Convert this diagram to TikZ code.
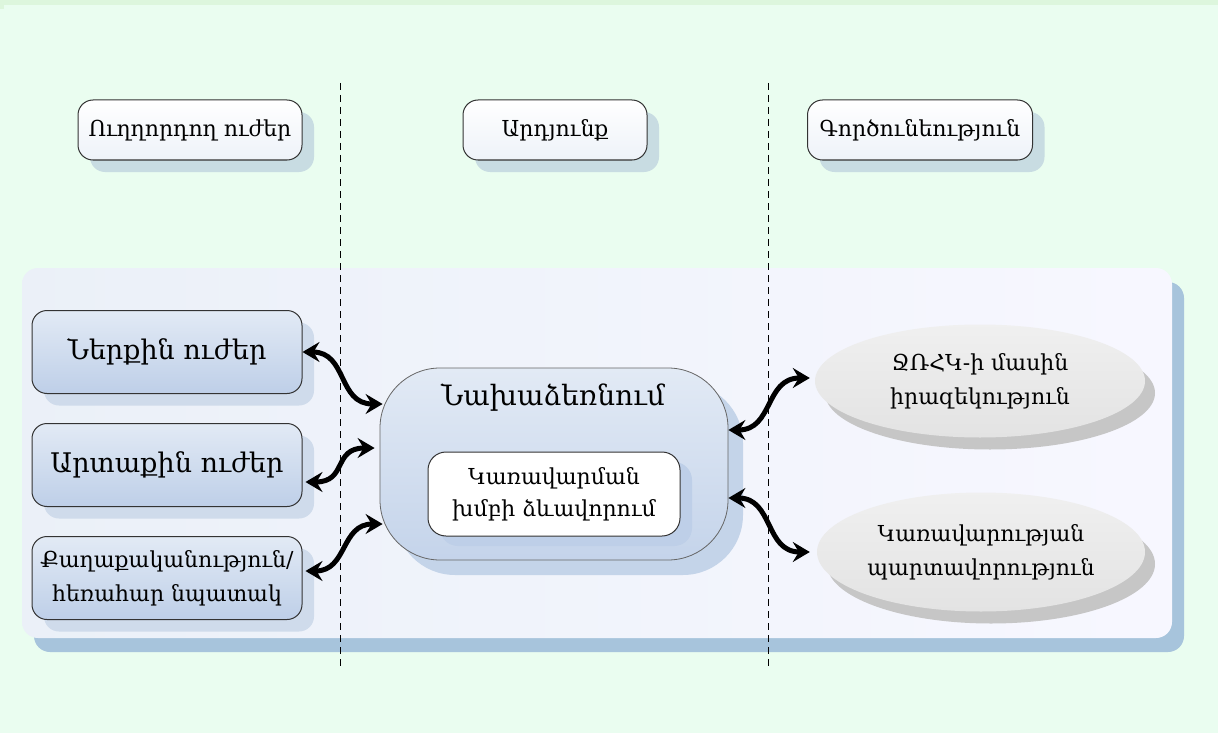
\documentclass[tikz,border=0pt]{standalone}
\usepackage{fontspec}
\setmainfont{DejaVu Serif}
\usetikzlibrary{shapes.geometric,shadows,arrows.meta}
\definecolor{bgcol}{HTML}{EAFDF0}
\definecolor{bgtop}{HTML}{DDF6DD}
\definecolor{hdshadow}{HTML}{C8DCE2}
\definecolor{panelshadow}{HTML}{A7C4DC}
\definecolor{bluebox}{HTML}{BECFE8}
\definecolor{bluelight}{HTML}{E2EAF5}
\definecolor{blueshadow}{HTML}{CFDBEB}
\definecolor{ctrshadow}{HTML}{C4D4E9}
\definecolor{grayshadow}{HTML}{C6C6C6}
\tikzset{
  hdbox/.style={draw=black!80, line width=1pt, rounded corners=15pt, minimum height=60pt,
    top color=white, bottom color=bluelight!60, font=\fontsize{22}{24}\selectfont,
    inner sep=2pt, general shadow={fill=hdshadow, shadow xshift=12pt, shadow yshift=-12pt}},
  leftbox/.style={draw=black!80, line width=1pt, rounded corners=15pt, minimum width=270pt,
    minimum height=83pt, top color=bluelight, bottom color=bluebox, align=center, inner sep=1pt,
    general shadow={fill=blueshadow, shadow xshift=12pt, shadow yshift=-12pt}},
  ctrbox/.style={draw=black!60, line width=0.8pt, rounded corners=60pt, minimum width=348pt,
    minimum height=192pt, top color=bluelight, bottom color=bluebox!90,
    general shadow={fill=ctrshadow, shadow xshift=15pt, shadow yshift=-15pt}},
  innerbox/.style={draw=black!80, line width=1pt, rounded corners=18pt, minimum width=252pt,
    minimum height=84pt, fill=white, align=center, font=\fontsize{22}{32}\selectfont,
    general shadow={fill=bluebox, shadow xshift=12pt, shadow yshift=-10pt}},
  ell/.style={ellipse, draw=none, top color=white!94!black, bottom color=white!89!black,
    align=center, font=\fontsize{22}{34}\selectfont, inner sep=0pt,
    general shadow={fill=grayshadow, shadow xshift=10pt, shadow yshift=-12pt}},
  dbl/.style={line width=5pt, {Stealth[length=17pt,width=20pt,inset=6pt]}-{Stealth[length=17pt,width=20pt,inset=6pt]}},
  divider/.style={black, line width=1pt, dash pattern=on 7pt off 5pt}
}
\begin{document}
\begin{tikzpicture}[x=1pt,y=-1pt]
\fill[bgcol] (0,0) rectangle (1218,733);
\fill[bgtop] (0,0) rectangle (1218,5);
\fill[bgtop] (0,0) rectangle (4,9);
\useasboundingbox (0,0) rectangle (1218,733);
% panel
\node[rounded corners=16pt, minimum width=1150pt, minimum height=370pt, draw=none,
  left color=bluelight!70!white, right color=white!97!blue,
  general shadow={fill=panelshadow, shadow xshift=12pt, shadow yshift=-14pt}] (panel) at (597,453) {};
% dividers
\draw[divider] (340,83) -- (340,668);
\draw[divider] (768,83) -- (768,668);
% headers
\node[hdbox, minimum width=224pt] (h1) at (190,130) {Ուղղորդող ուժեր};
\node[hdbox, minimum width=184pt] (h2) at (555,130) {Արդյունք};
\node[hdbox, minimum width=225pt] (h3) at (920,130) {Գործունեություն};
% left boxes
\node[leftbox, font=\fontsize{27}{30}\selectfont] (l1) at (167,352) {Ներքին ուժեր};
\node[leftbox, font=\fontsize{27}{30}\selectfont] (l2) at (167,465) {Արտաքին ուժեր};
\node[leftbox, font=\fontsize{22}{34}\selectfont] (l3) at (167,578) {Քաղաքականություն/\\հեռահար նպատակ};
% center
\node[ctrbox] (c) at (554,464) {};
\node[font=\fontsize{28}{30}\selectfont] (ctitle) at (553,398) {Նախաձեռնում};
\node[innerbox] (inner) at (554,494) {Կառավարման\\խմբի ձևավորում};
% ellipses
\node[ell, minimum width=330pt, minimum height=113pt] (e1) at (980,381) {ՋՌՀԿ-ի մասին\\իրազեկություն};
\node[ell, minimum width=328pt, minimum height=119pt] (e2) at (981,552) {Կառավարության\\պարտավորություն};
% connectors
\draw[dbl] (l1.east) .. controls +(45,0) and +(-45,0) .. ([shift={(3pt,60pt)}]c.west);
\draw[dbl] ([shift={(3pt,-17pt)}]l2.east) .. controls +(42,0) and +(-42,0) .. ([shift={(-5pt,16pt)}]c.west);
\draw[dbl] ([shift={(3pt,7pt)}]l3.east) .. controls +(42,0) and +(-42,0) .. ([shift={(3pt,-60pt)}]c.west);
\draw[dbl] ([yshift=34pt]c.east) .. controls +(45,0) and +(-45,0) .. ([shift={(-5pt,3pt)}]e1.west);
\draw[dbl] ([yshift=-34pt]c.east) .. controls +(45,0) and +(-45,0) .. ([xshift=-7pt]e2.west);
\end{tikzpicture}
\end{document}
